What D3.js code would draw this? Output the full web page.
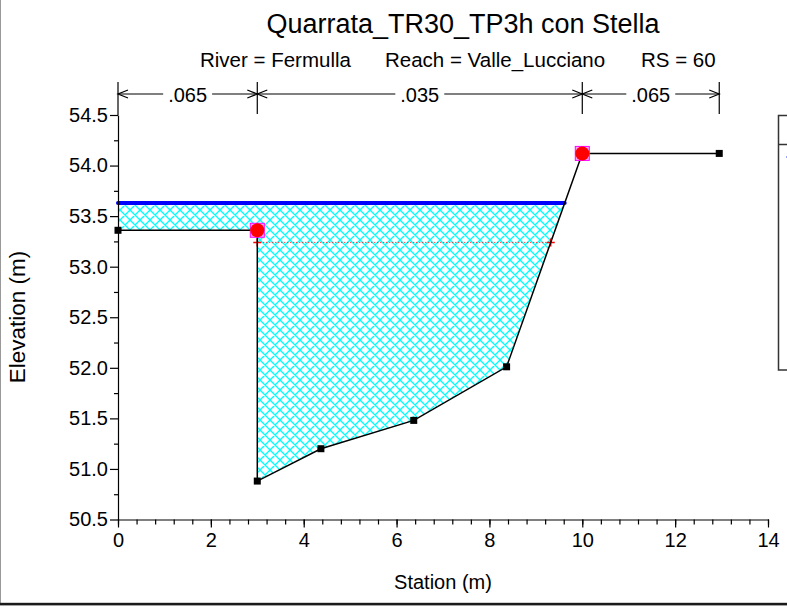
<!DOCTYPE html>
<html><head><meta charset="utf-8">
<script src="https://cdn.jsdelivr.net/npm/d3@7/dist/d3.min.js"></script>
<style>
body{margin:0;background:#fff}
svg{display:block}
text{font-family:"Liberation Sans",Arial,sans-serif;fill:#000}
</style>
</head><body>
<svg id="c" width="787" height="612"></svg>
<script>
// ---- data ----
const title = "Quarrata_TR30_TP3h con Stella";
const subtitleParts = ["River = Fermulla", "Reach = Valle_Lucciano", "RS = 60"];
const stations   = [0, 3, 3, 4.37, 6.37, 8.37, 10, 12.95];
const elevations = [53.36, 53.36, 50.88, 51.20, 51.48, 52.01, 54.12, 54.12];
const bankStations   = [3, 10];
const bankElevations = [53.36, 54.12];
const wsElevation   = 53.63;
const critElevation = 53.24;
const nBreaks = [0, 3, 10, 12.95];
const nValues = [".065", ".035", ".065"];
const xTicks = [0, 2, 4, 6, 8, 10, 12, 14];
const xMinorTicks = d3.range(0, 14.001, 0.4);
const yTicks = [50.5, 51.0, 51.5, 52.0, 52.5, 53.0, 53.5, 54.0, 54.5];
const yMinorTicks = [50.75, 51.25, 51.75, 52.25, 52.75, 53.25, 53.75, 54.25];
const xLabel = "Station (m)";
const yLabel = "Elevation (m)";

// ---- setup ----
const svg = d3.select("#c");
svg.append("rect").attr("width",787).attr("height",612).attr("fill","#fff");
const x = d3.scaleLinear().domain([0,14]).range([118,768]);
const y = d3.scaleLinear().domain([50.5,54.5]).range([519.5,115]);

// frame
svg.append("line").attr("x1",0.5).attr("x2",0.5).attr("y1",0).attr("y2",604).attr("stroke","#999").attr("stroke-width",1);
svg.append("rect").attr("x",0).attr("y",602.8).attr("width",787).attr("height",2.6).attr("fill","#1a1a1a");

// hatch pattern
const defs = svg.append("defs");
const P = 10;
const pat = defs.append("pattern").attr("id","hatch").attr("patternUnits","userSpaceOnUse")
  .attr("width",P).attr("height",P);
pat.append("path").attr("d",`M0,0L${P},${P}M-1,${P-1}L1,${P+1}M${P-1},-1L${P+1},1M${P},0L0,${P}M-1,1L1,-1M${P-1},${P+1}L${P+1},${P-1}`)
  .attr("stroke","#00ffff").attr("stroke-width",1.3).attr("fill","none");

// ground points
const ground = stations.map((s,i)=>[s, elevations[i]]);

function wetRegion(level){
  const pts = [];
  for(let i=0;i<ground.length;i++){
    const [s,e] = ground[i];
    if(i>0){
      const [ps,pe] = ground[i-1];
      if((pe<level) !== (e<level)){
        const t=(level-pe)/(e-pe);
        pts.push([ps+t*(s-ps), level]);
      }
    }
    if(e<level) pts.push([s,e]);
  }
  if(ground[0][1]<level) pts.unshift([ground[0][0], level]);
  if(ground[ground.length-1][1]<level) pts.push([ground[ground.length-1][0], level]);
  return pts;
}

// water fill
const wet = wetRegion(wsElevation);
const line = d3.line().x(d=>x(d[0])).y(d=>y(d[1]));
svg.append("path").attr("d", line(wet)+"Z").attr("fill","url(#hatch)").attr("stroke","none");

// critical depth line
const crit = wetRegion(critElevation);
const cx0 = crit[0][0], cx1 = crit[crit.length-1][0];
svg.append("line").attr("x1",x(cx0)).attr("x2",x(cx1)).attr("y1",y(critElevation)).attr("y2",y(critElevation))
  .attr("stroke","#ff0000").attr("stroke-width",1).attr("stroke-dasharray","1,2");
[cx0,cx1].forEach(s=>{
  const px=x(s), py=y(critElevation);
  svg.append("path").attr("d",`M${px-4},${py}H${px+4}M${px},${py-4}V${py+4}`)
    .attr("stroke","#ff0000").attr("stroke-width",1.5);
});

// water surface line
svg.append("line").attr("x1",x(wet[0][0])).attr("x2",x(wet[wet.length-1][0]))
  .attr("y1",y(wsElevation)).attr("y2",y(wsElevation))
  .attr("stroke","#0000ff").attr("stroke-width",4).attr("stroke-linecap","round");

// ground line
svg.append("path").attr("d",line(ground)).attr("fill","none").attr("stroke","#000").attr("stroke-width",1.5);
svg.selectAll("rect.pt").data(ground).enter().append("rect").attr("class","pt")
  .attr("x",d=>x(d[0])-3.5).attr("y",d=>y(d[1])-3.5).attr("width",7).attr("height",7).attr("fill","#000");

// bank stations
bankStations.forEach((s,i)=>{
  const px=x(s), py=y(bankElevations[i]);
  svg.append("rect").attr("x",px-7).attr("y",py-7).attr("width",14).attr("height",14)
    .attr("fill","#ffa0ff").attr("stroke","#ff00ff").attr("stroke-width",1);
  svg.append("circle").attr("cx",px).attr("cy",py).attr("r",7).attr("fill","#ff0000");
});

// axes
const fs = 20;
const gy = svg.append("g").attr("transform",`translate(${x(0)},0)`)
  .call(d3.axisLeft(y).tickValues(yTicks).tickSize(8).tickSizeOuter(0).tickPadding(2).tickFormat(d3.format(".1f")));
const gym = svg.append("g").attr("transform",`translate(${x(0)},0)`)
  .call(d3.axisLeft(y).tickValues(yMinorTicks).tickSize(4).tickSizeOuter(0).tickFormat(""));
gym.select(".domain").remove();
const gx = svg.append("g").attr("transform",`translate(0,${y(50.5)})`)
  .call(d3.axisBottom(x).tickValues(xTicks).tickSize(8).tickSizeOuter(0).tickPadding(5));
const gxm = svg.append("g").attr("transform",`translate(0,${y(50.5)})`)
  .call(d3.axisBottom(x).tickValues(xMinorTicks).tickSize(5).tickSizeOuter(0).tickFormat(""));
gxm.select(".domain").remove();
svg.selectAll(".tick line, .domain").attr("stroke","#000").attr("stroke-width",1.2);
[gy,gx].forEach(g=>g.selectAll("text").attr("font-size",fs).attr("font-family","Liberation Sans, Arial, sans-serif").attr("fill","#000"));

// axis titles
svg.append("text").attr("x",443).attr("y",589).attr("text-anchor","middle").attr("font-size",fs).text(xLabel);
svg.append("text").attr("transform","translate(25,317) rotate(-90)").attr("text-anchor","middle").attr("font-size",22.5).text(yLabel);

// title
svg.append("text").attr("x",463).attr("y",33).attr("text-anchor","middle").attr("font-size",27).text(title);
const subX = [200, 385, 641];
subtitleParts.forEach((t,i)=>svg.append("text").attr("x",subX[i]).attr("y",67).attr("font-size",20.5).text(t));

// Manning's n
const nTop=82, nBot=114, nY=94;
nBreaks.forEach(s=>{
  svg.append("line").attr("x1",x(s)).attr("x2",x(s)).attr("y1",nTop).attr("y2",s===0?115:nBot)
    .attr("stroke","#000").attr("stroke-width",1.2);
});
nValues.forEach((v,i)=>{
  const a=x(nBreaks[i]), b=x(nBreaks[i+1]), m=(a+b)/2;
  const t=svg.append("text").attr("x",m).attr("y",nY+7.5).attr("text-anchor","middle").attr("font-size",fs).text(v);
  const w=t.node().getComputedTextLength();
  const gap=5;
  svg.append("path").attr("d",`M${a},${nY}H${m-w/2-gap}M${m+w/2+gap},${nY}H${b}`)
    .attr("stroke","#000").attr("stroke-width",1.2).attr("fill","none");
  svg.append("path").attr("d",`M${a+10},${nY-4}L${a},${nY}L${a+10},${nY+4}M${b-10},${nY-4}L${b},${nY}L${b-10},${nY+4}`)
    .attr("stroke","#000").attr("stroke-width",1.2).attr("fill","none");
});

// legend box (clipped at right edge)
svg.append("rect").attr("x",778.5).attr("y",115.5).attr("width",40).attr("height",254.5)
  .attr("fill","#fff").attr("stroke","#333").attr("stroke-width",1.5);
svg.append("line").attr("x1",778.5).attr("x2",800).attr("y1",144.5).attr("y2",144.5).attr("stroke","#333").attr("stroke-width",1.5);
svg.append("line").attr("x1",786).attr("x2",800).attr("y1",157).attr("y2",157).attr("stroke","#8080ff").attr("stroke-width",1.5);
</script>
</body></html>
